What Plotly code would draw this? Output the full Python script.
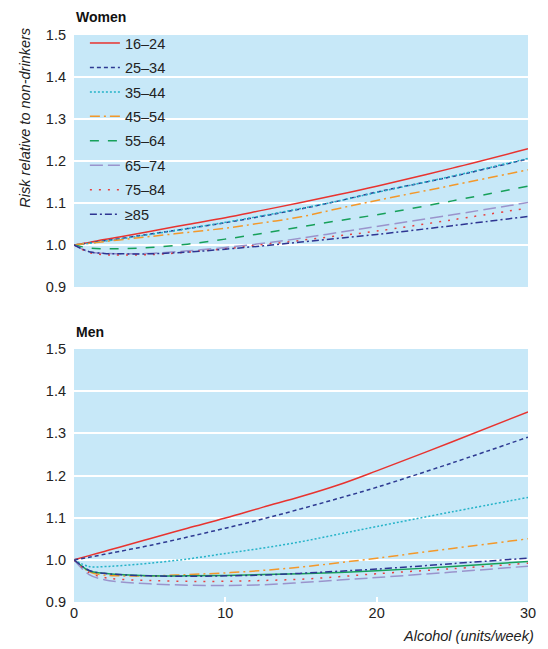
import plotly.graph_objects as go

alcohol = [0, 1, 2, 3, 5, 7.5, 10, 12.5, 15, 17.5, 20, 25, 30]
age_groups = ["16–24", "25–34", "35–44", "45–54", "55–64", "65–74", "75–84", "≥85"]

women_16_24 = [1.0, 1.006, 1.013, 1.019, 1.032, 1.049, 1.065, 1.083, 1.101, 1.120, 1.140, 1.183, 1.229]
women_25_34 = [1.0, 1.005, 1.010, 1.015, 1.026, 1.039, 1.053, 1.069, 1.086, 1.105, 1.126, 1.163, 1.205]
women_35_44 = [1.0, 1.004, 1.009, 1.014, 1.025, 1.039, 1.054, 1.070, 1.087, 1.105, 1.125, 1.164, 1.206]
women_45_54 = [1.0, 1.004, 1.008, 1.012, 1.020, 1.030, 1.040, 1.053, 1.067, 1.087, 1.106, 1.142, 1.179]
women_55_64 = [1.0, 0.993, 0.991, 0.991, 0.994, 1.002, 1.014, 1.028, 1.043, 1.058, 1.072, 1.105, 1.140]
women_65_74 = [1.0, 0.984, 0.980, 0.979, 0.980, 0.986, 0.994, 1.004, 1.016, 1.030, 1.044, 1.072, 1.101]
women_75_84 = [1.0, 0.982, 0.977, 0.976, 0.977, 0.983, 0.991, 1.001, 1.011, 1.022, 1.033, 1.060, 1.088]
women_85 = [1.0, 0.984, 0.980, 0.979, 0.979, 0.983, 0.990, 0.998, 1.007, 1.016, 1.025, 1.046, 1.068]

men_16_24 = [1.0, 1.010, 1.020, 1.030, 1.050, 1.075, 1.099, 1.125, 1.150, 1.178, 1.211, 1.280, 1.351]
men_25_34 = [1.0, 1.006, 1.013, 1.020, 1.034, 1.054, 1.075, 1.097, 1.121, 1.146, 1.172, 1.230, 1.291]
men_35_44 = [1.0, 0.984, 0.984, 0.986, 0.992, 1.002, 1.015, 1.028, 1.043, 1.061, 1.079, 1.114, 1.148]
men_45_54 = [1.0, 0.972, 0.964, 0.962, 0.962, 0.965, 0.969, 0.975, 0.983, 0.993, 1.004, 1.027, 1.050]
men_55_64 = [1.0, 0.974, 0.968, 0.965, 0.962, 0.962, 0.963, 0.965, 0.967, 0.970, 0.974, 0.984, 0.996]
men_65_74 = [1.0, 0.965, 0.953, 0.948, 0.943, 0.940, 0.939, 0.941, 0.946, 0.952, 0.958, 0.971, 0.985]
men_75_84 = [1.0, 0.970, 0.958, 0.954, 0.951, 0.949, 0.949, 0.951, 0.954, 0.960, 0.967, 0.979, 0.992]
men_85 = [1.0, 0.975, 0.968, 0.965, 0.962, 0.961, 0.962, 0.964, 0.968, 0.973, 0.978, 0.991, 1.004]

women = [women_16_24, women_25_34, women_35_44, women_45_54, women_55_64, women_65_74, women_75_84, women_85]
men = [men_16_24, men_25_34, men_35_44, men_45_54, men_55_64, men_65_74, men_75_84, men_85]

y_ticks = [0.9, 1.0, 1.1, 1.2, 1.3, 1.4, 1.5]
x_ticks = [0, 10, 20, 30]

colors = ["#e8332f", "#2e3a92", "#25b3c8", "#f3982a", "#17a05a", "#9a94cc", "#e8403f", "#2e3592"]
dashes = ["solid", "4px,3px", "2px,2px", "10px,4px,2px,4px", "9px,9px", "13px,5px", "2px,7px", "7px,3px,2px,3px"]
men_dashes = ["solid", "4px,3px", "2px,2px", "10px,4px,2px,4px", "solid", "13px,5px", "2px,7px", "7px,3px,2px,3px"]

FONT = "Liberation Sans, Arial, sans-serif"

fig = go.Figure()
for i, name in enumerate(age_groups):
    fig.add_trace(go.Scatter(
        x=alcohol, y=women[i], mode="lines", name=name, legendgroup=name,
        line=dict(color=colors[i], width=1.5, dash=dashes[i], shape="spline"),
        xaxis="x", yaxis="y", showlegend=True))
for i, name in enumerate(age_groups):
    fig.add_trace(go.Scatter(
        x=alcohol, y=men[i], mode="lines", name=name, legendgroup=name,
        line=dict(color=colors[i], width=1.5, dash=men_dashes[i], shape="spline"),
        xaxis="x2", yaxis="y2", showlegend=False))

bg = "#c7e8f8"
yax = dict(range=[0.9, 1.5], tickvals=y_ticks, tickformat=".1f", showgrid=True,
           gridcolor="white", gridwidth=2, zeroline=False, showline=False,
           ticks="", tickfont=dict(family=FONT, size=14.5, color="#222"), ticklabelstandoff=7)
fig.update_layout(
    width=540, height=641,
    margin=dict(l=66, r=18, t=27, b=47),
    paper_bgcolor="white", plot_bgcolor=bg,
    font=dict(family=FONT, size=14.5, color="#222"),
    xaxis=dict(domain=[0, 1], range=[0, 30], anchor="y", showticklabels=False,
               showgrid=False, zeroline=False, showline=False, ticks=""),
    yaxis=dict(domain=[0.5556, 1.0], anchor="x", **yax),
    xaxis2=dict(domain=[0, 1], range=[0, 30], anchor="y2", tickvals=x_ticks,
                showgrid=False, zeroline=False, showline=False, ticks="inside",
                tickcolor="white", ticklen=5, tickwidth=2,
                tickfont=dict(family=FONT, size=14.5, color="#222")),
    yaxis2=dict(domain=[0.0, 0.4462], anchor="x2", **yax),
    legend=dict(x=0.024, y=1.014, xanchor="left", yanchor="top", bgcolor="rgba(0,0,0,0)",
                font=dict(family=FONT, size=14.5, color="#222"), tracegroupgap=2.6,
                borderwidth=0),
    showlegend=True,
)

fig.add_annotation(text="<b>Women</b>", xref="paper", yref="paper", x=0.0, y=1.032,
                   xanchor="left", yanchor="middle", showarrow=False,
                   font=dict(family=FONT, size=14, color="#111"))
fig.add_annotation(text="<b>Men</b>", xref="paper", yref="paper", x=0.0, y=0.476,
                   xanchor="left", yanchor="middle", showarrow=False,
                   font=dict(family=FONT, size=14, color="#111"))
fig.add_annotation(text="<i>Risk relative to non-drinkers</i>", xref="paper", yref="paper",
                   x=-0.107, y=0.855, xanchor="center", yanchor="middle", textangle=-90,
                   showarrow=False, font=dict(family=FONT, size=14.5, color="#222"))
fig.add_annotation(text="<i>Alcohol (units/week)</i>", xref="paper", yref="paper",
                   x=1.0175, y=-0.06, xanchor="right", yanchor="middle",
                   showarrow=False, font=dict(family=FONT, size=14.5, color="#222"))

fig.write_html("out.html")
